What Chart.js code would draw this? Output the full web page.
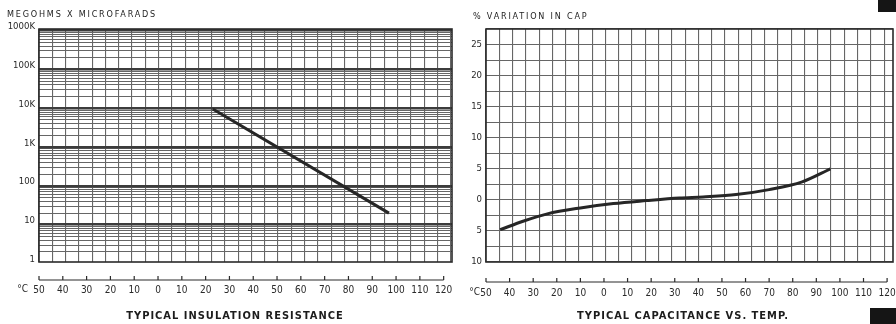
<!DOCTYPE html>
<html>
<head>
<meta charset="utf-8">
<title>Typical insulation resistance / capacitance vs temp</title>
<script src="https://cdn.jsdelivr.net/npm/chart.js@4.4.1/dist/chart.umd.min.js"></script>
<style>
  html, body { margin: 0; padding: 0; background: #fff; }
  body { width: 896px; height: 324px; position: relative; overflow: hidden; }
  #wrapLeft { position: absolute; left: 0; top: 0; width: 470px; height: 324px; }
  #wrapRight { position: absolute; left: 470px; top: 0; width: 426px; height: 324px; }
  .mark { position: absolute; background: #151515; }
</style>
</head>
<body>
<div id="wrapLeft"><canvas id="irChart"></canvas></div>
<div id="wrapRight"><canvas id="capChart"></canvas></div>
<div class="mark" style="left:878px;top:0;width:18px;height:12px"></div>
<div class="mark" style="left:870px;top:308px;width:26px;height:16px"></div>
<script>
// ====== CHART DATA ======
const tempTicks = [-50, -40, -30, -20, -10, 0, 10, 20, 30, 40, 50, 60, 70, 80, 90, 100, 110, 120];
const tempTickLabels = ["50", "40", "30", "20", "10", "0", "10", "20", "30", "40", "50", "60", "70", "80", "90", "100", "110", "120"];

// insulation resistance (megohms x microfarads) vs temperature
const irTemps = [23, 97];
const irValues = [9600, 20];
const irDecades = [1, 10, 100, 1000, 10000, 100000, 1000000];
const irDecadeLabels = ["1", "10", "100", "1K", "10K", "100K", "1000K"];

// % variation in capacitance vs temperature
const capTemps = [-44, -34, -24, -10, 4, 18, 32, 42, 56, 70, 84, 96];
const capValues = [-4.8, -3.4, -2.25, -1.3, -0.6, -0.12, 0.3, 0.48, 0.85, 1.65, 2.9, 5.0];
const capTickValues = [-10, -5, 0, 5, 10, 15, 20, 25];
const capTickLabels = ["10", "5", "0", "5", "10", "15", "20", "25"];

// ====== STYLE ======
const FONT = '"Liberation Sans Narrow", "DejaVu Sans Condensed", "Liberation Sans", sans-serif';
const INK = "#2a2a2a";
const PAPER_LINE = "#666";

Chart.defaults.font.family = FONT;
Chart.defaults.color = INK;

// ====== HELPERS ======
function isDecade(v) {
  const l = Math.log10(v);
  return Math.abs(l - Math.round(l)) < 1e-9;
}

function tempLabel(value) {
  const i = tempTicks.indexOf(value);
  return i >= 0 ? tempTickLabels[i] : "";
}

// graph-paper columns (independent of the temperature scale)
function paperColumns(scale, count) {
  const ticks = [];
  for (let k = 0; k <= count; k++) ticks.push({ value: k });
  scale.ticks = ticks;
}

// keep the temperature axis from shrinking the plot for its end labels
function tempAxisFit(height) {
  return (scale) => {
    scale.height = height;
    scale.paddingLeft = 0;
    scale.paddingRight = 0;
  };
}

// ====== PLUGIN: frame, separate °C axis line, header and footer text ======
const paperExtras = {
  id: "paperExtras",
  afterDraw(chart, args, opts) {
    const ctx = chart.ctx;
    const area = chart.chartArea;
    const xT = chart.scales.xT;
    ctx.save();

    // plot frame
    ctx.strokeStyle = INK;
    ctx.lineWidth = 1.6;
    ctx.strokeRect(area.left, area.top, area.right - area.left, area.bottom - area.top);

    // temperature axis line with upward ticks
    const x0 = xT.getPixelForValue(tempTicks[0]);
    const x1 = xT.getPixelForValue(tempTicks[tempTicks.length - 1]);
    const yA = xT.top;
    ctx.lineWidth = 1.2;
    ctx.beginPath();
    ctx.moveTo(x0, yA);
    ctx.lineTo(x1, yA);
    tempTicks.forEach((t) => {
      const px = xT.getPixelForValue(t);
      ctx.moveTo(px, yA);
      ctx.lineTo(px, yA - 4);
    });
    ctx.stroke();

    // °C prefix before the first label
    ctx.fillStyle = INK;
    ctx.font = "10px " + FONT;
    ctx.textAlign = "right";
    ctx.textBaseline = "top";
    ctx.fillText("°C", x0 - opts.cOffset, yA + opts.labelPad);

    // header (y axis title)
    ctx.fillStyle = "#1c1c1c";
    ctx.font = "9px " + FONT;
    ctx.letterSpacing = "1.8px";
    ctx.textAlign = "left";
    ctx.textBaseline = "middle";
    ctx.fillText(opts.header, opts.headerX, opts.headerY);

    // footer title
    ctx.font = "bold 11px " + FONT;
    ctx.letterSpacing = "1px";
    ctx.textAlign = "center";
    ctx.fillText(opts.footer, chart.width / 2, 316);
    ctx.restore();
  },
};

// ====== CHART 1: TYPICAL INSULATION RESISTANCE ======
function renderIrChart() {
  const ctx = document.getElementById("irChart").getContext("2d");
  new Chart(ctx, {
    type: "scatter",
    data: {
      datasets: [
        {
          data: irTemps.map((t, i) => ({ x: t, y: irValues[i] })),
          xAxisID: "xT",
          yAxisID: "y",
          showLine: true,
          borderColor: "#262626",
          borderWidth: 3,
          pointRadius: 0,
        },
      ],
    },
    options: {
      responsive: true,
      maintainAspectRatio: false,
      animation: false,
      layout: { padding: { top: 29, bottom: 20, left: 0, right: 18 } },
      plugins: {
        legend: { display: false },
        tooltip: { enabled: false },
        paperExtras: {
          header: "MEGOHMS X MICROFARADS",
          headerX: 7,
          headerY: 15,
          footer: "TYPICAL INSULATION RESISTANCE",
          labelPad: 4,
          cOffset: 11,
        },
      },
      scales: {
        xGrid: {
          type: "linear",
          position: "bottom",
          weight: 0,
          min: 0,
          max: 31.1,
          afterBuildTicks: (scale) => paperColumns(scale, 31),
          afterFit: (scale) => { scale.height = 18; },
          grid: { color: PAPER_LINE, lineWidth: 1.1, drawTicks: false },
          border: { display: false },
          ticks: { display: false, autoSkip: false },
        },
        xT: {
          type: "linear",
          position: "bottom",
          weight: 1,
          min: -50,
          max: 123.5,
          afterBuildTicks: (scale) => { scale.ticks = tempTicks.map((v) => ({ value: v })); },
          afterFit: tempAxisFit(24),
          grid: { display: false, drawTicks: false },
          border: { display: false },
          ticks: { autoSkip: false, maxRotation: 0, padding: 4, font: { size: 10 }, callback: (v) => tempLabel(v) },
        },
        y: {
          type: "logarithmic",
          min: 1.1,
          max: 1100000,
          afterBuildTicks: (scale) => {
            const ticks = [];
            irDecades.forEach((d, i) => {
              if (i === irDecades.length - 1) { ticks.push({ value: d }); return; }
              for (let k = 1; k <= 9; k++) ticks.push({ value: d * k });
            });
            scale.ticks = ticks;
          },
          afterFit: (scale) => { scale.width = 39; },
          grid: {
            drawTicks: false,
            color: (c) => (c.tick && isDecade(c.tick.value) ? "#3c3c3c" : PAPER_LINE),
            lineWidth: (c) => {
              if (!c.tick || c.tick.value < c.scale.min) return 0;
              return isDecade(c.tick.value) ? 2.6 : 1;
            },
          },
          border: { display: false },
          ticks: {
            autoSkip: false,
            padding: 4,
            labelOffset: -4,
            font: { size: 9.5 },
            callback: (v) => {
              const i = irDecades.findIndex((d) => Math.abs(d - v) < 1e-6 * d);
              return i >= 0 ? irDecadeLabels[i] : "";
            },
          },
        },
      },
    },
    plugins: [paperExtras],
  });
}

// ====== CHART 2: TYPICAL CAPACITANCE VS. TEMP. ======
function renderCapChart() {
  const ctx = document.getElementById("capChart").getContext("2d");
  new Chart(ctx, {
    type: "scatter",
    data: {
      datasets: [
        {
          data: capTemps.map((t, i) => ({ x: t, y: capValues[i] })),
          xAxisID: "xT",
          yAxisID: "y",
          showLine: true,
          cubicInterpolationMode: "monotone",
          borderColor: "#262626",
          borderWidth: 3,
          pointRadius: 0,
        },
      ],
    },
    options: {
      responsive: true,
      maintainAspectRatio: false,
      animation: false,
      layout: { padding: { top: 29, bottom: 20, left: 0, right: 3 } },
      plugins: {
        legend: { display: false },
        tooltip: { enabled: false },
        paperExtras: {
          header: "% VARIATION IN CAP",
          headerX: 3,
          headerY: 17,
          footer: "TYPICAL CAPACITANCE VS. TEMP.",
          labelPad: 5,
          cOffset: 6,
        },
      },
      scales: {
        xGrid: {
          type: "linear",
          position: "bottom",
          weight: 0,
          min: 0,
          max: 30.67,
          afterBuildTicks: (scale) => paperColumns(scale, 30),
          afterFit: (scale) => { scale.height = 20; },
          grid: { color: PAPER_LINE, lineWidth: 1.1, drawTicks: false },
          border: { display: false },
          ticks: { display: false, autoSkip: false },
        },
        xT: {
          type: "linear",
          position: "bottom",
          weight: 1,
          min: -50,
          max: 122.5,
          afterBuildTicks: (scale) => { scale.ticks = tempTicks.map((v) => ({ value: v })); },
          afterFit: tempAxisFit(22),
          grid: { display: false, drawTicks: false },
          border: { display: false },
          ticks: { autoSkip: false, maxRotation: 0, padding: 5, font: { size: 10 }, callback: (v) => tempLabel(v) },
        },
        y: {
          type: "linear",
          min: -10,
          max: 27.5,
          afterFit: (scale) => { scale.width = 16; },
          grid: { color: PAPER_LINE, lineWidth: 1.1, drawTicks: false },
          border: { display: false },
          ticks: {
            stepSize: 2.5,
            autoSkip: false,
            padding: 4,
            font: { size: 9.5 },
            callback: (v) => {
              const i = capTickValues.indexOf(v);
              return i >= 0 ? capTickLabels[i] : "";
            },
          },
        },
      },
    },
    plugins: [paperExtras],
  });
}

// ====== RUN ======
renderIrChart();
renderCapChart();
</script>
</body>
</html>
